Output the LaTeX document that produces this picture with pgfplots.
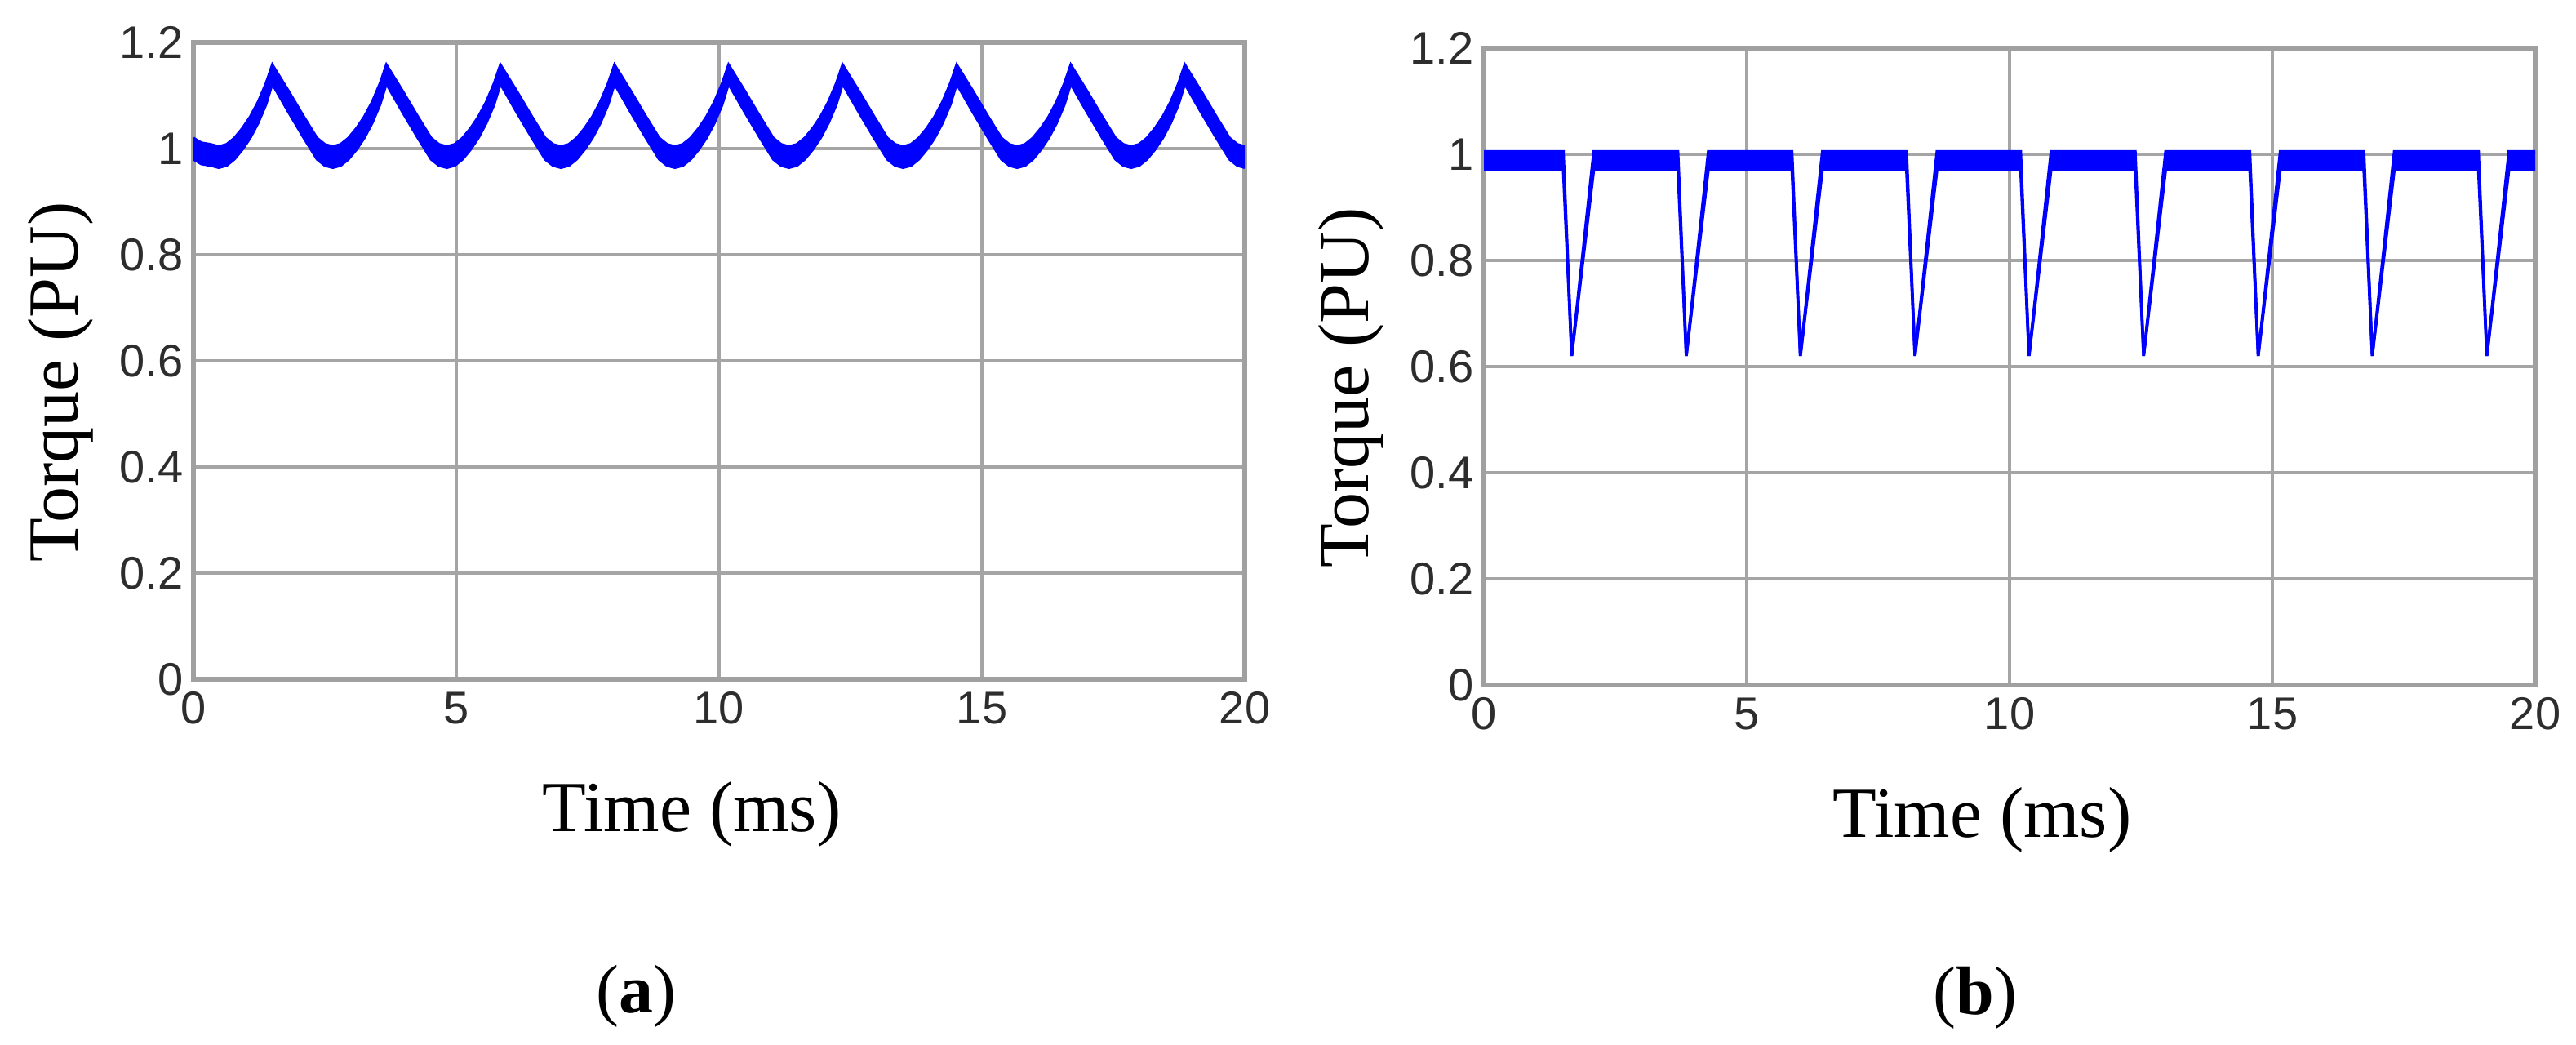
\documentclass[border=0pt]{standalone}
\usepackage{fontspec}
\setmainfont{Liberation Serif}
\newfontfamily\tickfont{Liberation Sans}
\usepackage{pgfplots}
\usepackage{pgfplotstable}
\pgfplotsset{compat=1.18}
\usepgfplotslibrary{fillbetween}

\definecolor{gridgray}{RGB}{165,165,165}
\definecolor{framegray}{RGB}{160,160,160}
\definecolor{tickgray}{RGB}{45,45,45}
\definecolor{trace}{RGB}{0,0,255}

% (a) ripple torque: envelope of the thick trace (time in ms, lower, upper)
\pgfplotstableread{
t lo hi
0.00 0.980 1.020
0.15 0.971 1.011
0.33 0.968 1.008
0.48 0.964 1.004
0.63 0.968 1.008
0.78 0.980 1.020
0.93 0.998 1.038
1.08 1.020 1.060
1.23 1.048 1.088
1.38 1.083 1.123
1.50 1.122 1.158
1.80 1.070 1.110
2.10 1.020 1.060
2.35 0.980 1.020
2.50 0.968 1.008
2.65 0.964 1.004
2.80 0.968 1.008
2.95 0.980 1.020
3.10 0.998 1.038
3.25 1.020 1.060
3.40 1.048 1.088
3.55 1.083 1.123
3.67 1.122 1.158
3.97 1.070 1.110
4.27 1.020 1.060
4.52 0.980 1.020
4.67 0.968 1.008
4.82 0.964 1.004
4.97 0.968 1.008
5.12 0.980 1.020
5.27 0.998 1.038
5.42 1.020 1.060
5.57 1.048 1.088
5.72 1.083 1.123
5.84 1.122 1.158
6.14 1.070 1.110
6.44 1.020 1.060
6.69 0.980 1.020
6.84 0.968 1.008
6.99 0.964 1.004
7.14 0.968 1.008
7.29 0.980 1.020
7.44 0.998 1.038
7.59 1.020 1.060
7.74 1.048 1.088
7.89 1.083 1.123
8.01 1.122 1.158
8.31 1.070 1.110
8.61 1.020 1.060
8.86 0.980 1.020
9.01 0.968 1.008
9.16 0.964 1.004
9.31 0.968 1.008
9.46 0.980 1.020
9.61 0.998 1.038
9.76 1.020 1.060
9.91 1.048 1.088
10.06 1.083 1.123
10.18 1.122 1.158
10.48 1.070 1.110
10.78 1.020 1.060
11.03 0.980 1.020
11.18 0.968 1.008
11.33 0.964 1.004
11.48 0.968 1.008
11.63 0.980 1.020
11.78 0.998 1.038
11.93 1.020 1.060
12.08 1.048 1.088
12.23 1.083 1.123
12.35 1.122 1.158
12.65 1.070 1.110
12.95 1.020 1.060
13.20 0.980 1.020
13.35 0.968 1.008
13.50 0.964 1.004
13.65 0.968 1.008
13.80 0.980 1.020
13.95 0.998 1.038
14.10 1.020 1.060
14.25 1.048 1.088
14.40 1.083 1.123
14.52 1.122 1.158
14.82 1.070 1.110
15.12 1.020 1.060
15.37 0.980 1.020
15.52 0.968 1.008
15.67 0.964 1.004
15.82 0.968 1.008
15.97 0.980 1.020
16.12 0.998 1.038
16.27 1.020 1.060
16.42 1.048 1.088
16.57 1.083 1.123
16.69 1.122 1.158
16.99 1.070 1.110
17.29 1.020 1.060
17.54 0.980 1.020
17.69 0.968 1.008
17.84 0.964 1.004
17.99 0.968 1.008
18.14 0.980 1.020
18.29 0.998 1.038
18.44 1.020 1.060
18.59 1.048 1.088
18.74 1.083 1.123
18.86 1.122 1.158
19.16 1.070 1.110
19.46 1.020 1.060
19.71 0.980 1.020
19.86 0.968 1.008
20.00 0.964 1.004
}\rippletab

% (b) flat torque band with periodic dips
\pgfplotstableread{
t lo hi
0.00 0.972 1.005
1.51 0.972 1.005
1.67 0.620 0.620
2.09 0.972 1.005
3.69 0.972 1.005
3.85 0.620 0.620
4.27 0.972 1.005
5.86 0.972 1.005
6.02 0.620 0.620
6.44 0.972 1.005
8.04 0.972 1.005
8.20 0.620 0.620
8.62 0.972 1.005
10.21 0.972 1.005
10.37 0.620 0.620
10.79 0.972 1.005
12.39 0.972 1.005
12.55 0.620 0.620
12.97 0.972 1.005
14.57 0.972 1.005
14.73 0.620 0.620
15.15 0.972 1.005
16.74 0.972 1.005
16.90 0.620 0.620
17.32 0.972 1.005
18.92 0.972 1.005
19.08 0.620 0.620
19.50 0.972 1.005
20.00 0.972 1.005
}\diptab

\pgfplotsset{torque/.style={
  scale only axis,
  width=322pt, height=195pt,
  xmin=0, xmax=20, ymin=0, ymax=1.2,
  xtick={0,5,10,15,20},
  ytick={0,0.2,0.4,0.6,0.8,1,1.2},
  grid=major,
  major grid style={gridgray, line width=1.1pt},
  axis line style={framegray, line width=1.5pt},
  major tick length=0pt,
  /pgf/number format/assume math mode=true,
  tick label style={font=\tickfont\fontsize{14}{16}\selectfont, text=tickgray, inner sep=0pt},
  xticklabel style={anchor=north, yshift=-3.75pt},
  yticklabel style={anchor=east, xshift=-3pt},
  xlabel={Time (ms)},
  ylabel={Torque (PU)},
  every axis x label/.style={at={(axis description cs:0.474,-0.2385)}, anchor=base,
    font=\fontsize{22}{26}\selectfont},
  every axis y label/.style={at={(axis description cs:-0.1265,0.467)}, anchor=center, rotate=90,
    font=\fontsize{22}{26}\selectfont},
}}

\begin{document}
\begin{tikzpicture}

\begin{axis}[torque, at={(59.25pt,111.75pt)}, anchor=south west]
\addplot[name path=aup, trace, line width=0.8pt] table[x=t, y=hi] {\rippletab};
\addplot[name path=alo, trace, line width=0.8pt] table[x=t, y=lo] {\rippletab};
\addplot[trace] fill between[of=aup and alo];
\end{axis}

\begin{axis}[torque, at={(454.5pt,110pt)}, anchor=south west]
\addplot[name path=bup, trace, line width=0.9pt] table[x=t, y=hi] {\diptab};
\addplot[name path=blo, trace, line width=0.9pt] table[x=t, y=lo] {\diptab};
\addplot[trace] fill between[of=bup and blo];
\end{axis}

\node[anchor=base, font=\fontsize{21}{25}\selectfont] at (194.75pt,9.75pt) {(\textbf{a})};
\node[anchor=base, font=\fontsize{21}{25}\selectfont] at (605pt,9.25pt) {(\textbf{b})};
\path (0,0) rectangle (789pt,319.75pt);
\end{tikzpicture}
\end{document}
